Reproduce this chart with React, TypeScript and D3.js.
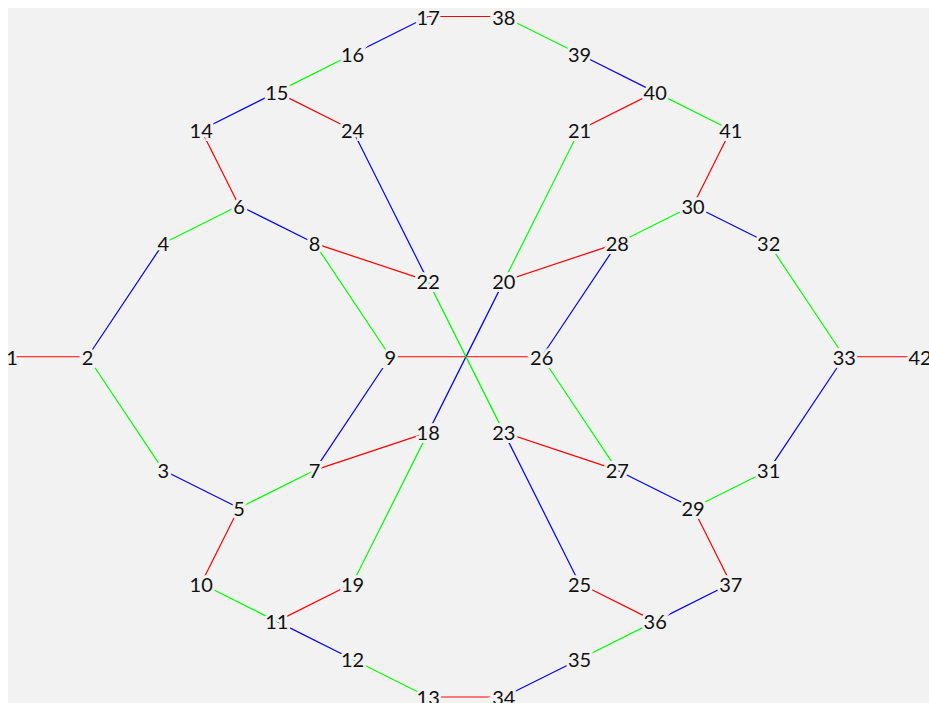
import React, { useEffect, useRef } from 'react'
import * as d3 from 'd3'

// node ids with their grid column / row
const nodeIds = [
  1, 2, 3, 4, 5, 6, 7, 8, 9, 10, 11, 12, 13, 14, 15, 16, 17, 18, 19, 20, 21,
  22, 23, 24, 25, 26, 27, 28, 29, 30, 31, 32, 33, 34, 35, 36, 37, 38, 39, 40, 41, 42,
]
const nodeCols = [
  0, 2, 4, 4, 6, 6, 8, 8, 10, 5, 7, 9, 11, 5, 7, 9, 11, 11, 9, 13, 15,
  11, 13, 9, 15, 14, 16, 16, 18, 18, 20, 20, 22, 13, 15, 17, 19, 13, 15, 17, 19, 24,
]
const nodeRows = [
  9, 9, 12, 6, 13, 5, 12, 6, 9, 15, 16, 17, 18, 3, 2, 1, 0, 11, 15, 7, 3,
  7, 11, 3, 15, 9, 12, 6, 13, 5, 12, 6, 9, 18, 17, 16, 15, 0, 1, 2, 3, 9,
]

// edges: source, target, colour group
const edgeSources = [
  1, 2, 2, 4, 3, 6, 6, 5, 5, 8, 8, 7, 7, 9, 14, 15, 15, 16, 17, 38, 39, 40, 40, 41, 30, 30,
  32, 33, 33, 31, 29, 29, 37, 36, 36, 35, 34, 13, 12, 11, 11, 19, 18, 22, 24, 21, 20, 28, 26, 23, 23,
]
const edgeTargets = [
  2, 4, 3, 6, 5, 14, 8, 10, 7, 22, 9, 9, 18, 26, 15, 16, 24, 17, 38, 39, 40, 21, 41, 30, 28, 32,
  33, 42, 31, 29, 27, 37, 36, 25, 35, 34, 13, 12, 11, 10, 19, 18, 20, 23, 22, 20, 28, 26, 27, 27, 25,
]
const edgeKinds = [
  'r', 'b', 'g', 'g', 'b', 'r', 'b', 'r', 'g', 'r', 'g', 'b', 'r', 'r', 'b', 'g', 'r', 'b', 'r', 'g', 'b', 'r', 'g', 'r', 'g', 'b',
  'g', 'r', 'b', 'g', 'b', 'r', 'b', 'r', 'g', 'b', 'r', 'g', 'b', 'g', 'r', 'g', 'b', 'g', 'b', 'g', 'r', 'b', 'g', 'r', 'b',
]

export default function App() {
  const svgRef = useRef<SVGSVGElement>(null)

  useEffect(() => {
    const w = 960
    const h = 720
    const bg = '#f2f2f2'
    // fixed so the oversize canvas doesn't add scrollbars
    const svg = d3.select(svgRef.current)
      .attr('width', w)
      .attr('height', h)
      .style('position', 'fixed')
      .style('left', '8px')
      .style('top', '8px')
      .style('background', bg)
    svg.selectAll('*').remove()

    const x = d3.scaleLinear().domain([0, 24]).range([4, 912])
    const y = d3.scaleLinear().domain([0, 18]).range([8.5, 689])
    const color = d3.scaleOrdinal<string, string>()
      .domain(['r', 'g', 'b'])
      .range(['#ff0000', '#00ff00', '#0000ff'])

    const nodes = new Map(nodeIds.map((id, i) => [id, { id, c: nodeCols[i], r: nodeRows[i] }]))
    const edges = edgeSources.map((s, i) => ({ s: nodes.get(s)!, t: nodes.get(edgeTargets[i])!, k: edgeKinds[i] }))

    svg.append('g')
      .selectAll('line')
      .data(edges)
      .join('line')
      .attr('x1', d => x(d.s.c))
      .attr('y1', d => y(d.s.r))
      .attr('x2', d => x(d.t.c))
      .attr('y2', d => y(d.t.r))
      .attr('stroke', d => color(d.k))
      .attr('stroke-width', 1.2)

    svg.append('g')
      .selectAll('text')
      .data(Array.from(nodes.values()))
      .join('text')
      .attr('x', d => x(d.c))
      .attr('y', d => y(d.r))
      .attr('text-anchor', 'middle')
      .attr('dominant-baseline', 'central')
      .attr('font-family', 'Lato, sans-serif')
      .attr('font-size', 20)
      .attr('fill', '#111')
      .attr('stroke', bg)
      .attr('stroke-width', 6)
      .attr('paint-order', 'stroke')
      .text(d => d.id)
  }, [])

  return <svg ref={svgRef}></svg>
}
